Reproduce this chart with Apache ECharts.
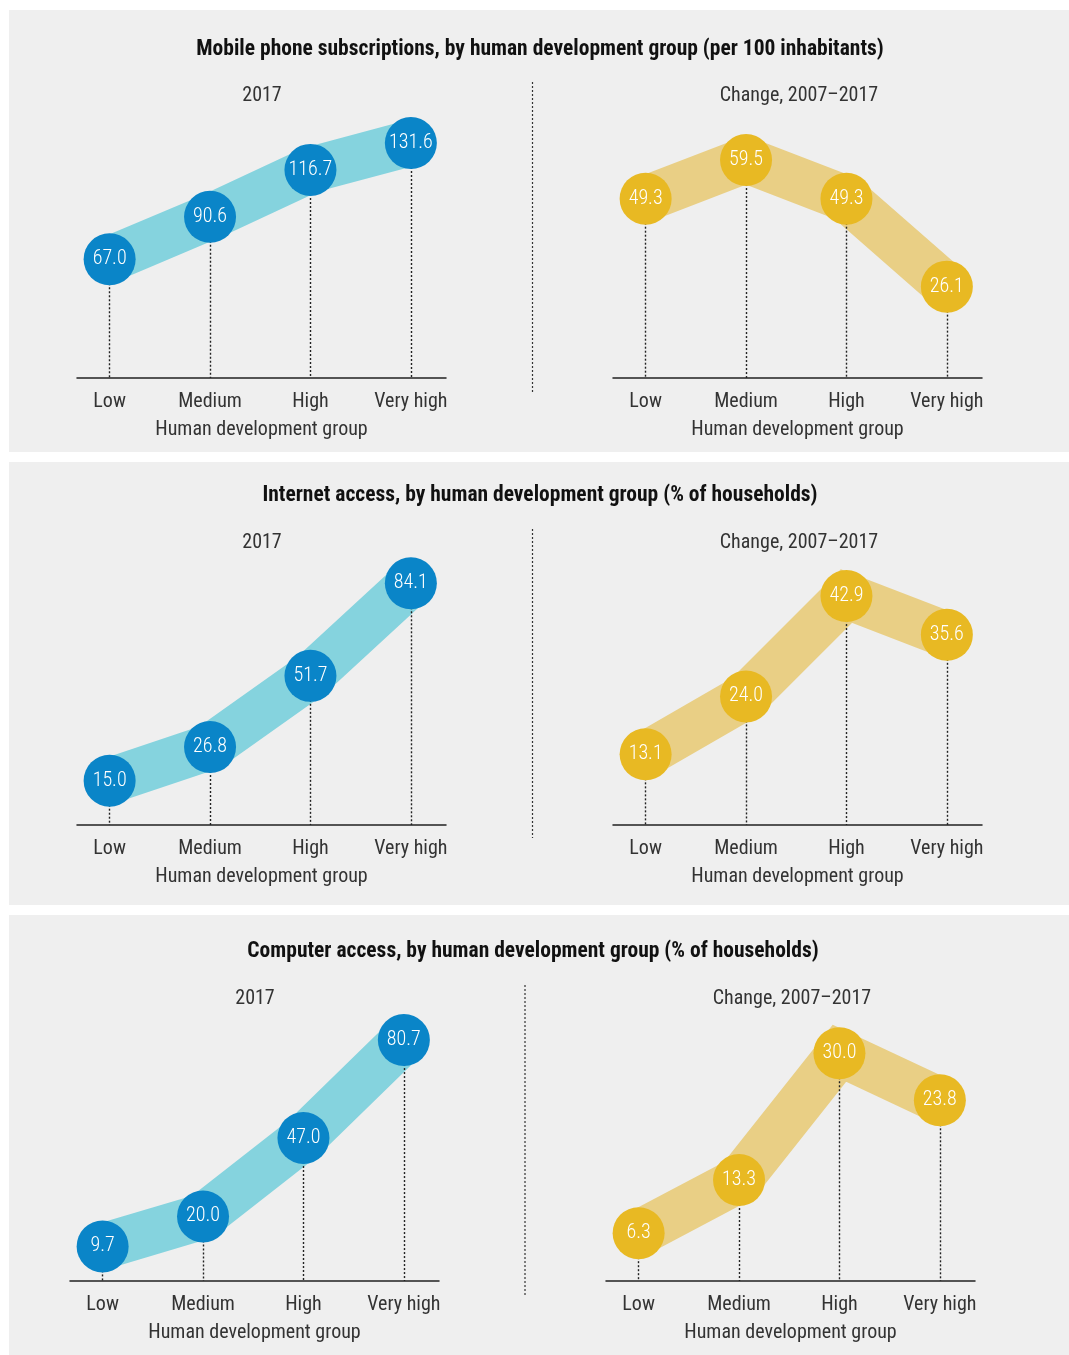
<!DOCTYPE html>
<html>
<head>
<meta charset="utf-8">
<script src="https://cdn.jsdelivr.net/npm/echarts@6/dist/echarts.min.js"></script>
<style>
html,body{margin:0;padding:0;background:#fff;}
#chart{width:1069px;height:1355px;}
</style>
</head>
<body>
<div id="chart"></div>
<script>
// ---- data ----
const categories = ['Low', 'Medium', 'High', 'Very high'];
const mobile2017 = [67.0, 90.6, 116.7, 131.6];
const mobileChange = [49.3, 59.5, 49.3, 26.1];
const internet2017 = [15.0, 26.8, 51.7, 84.1];
const internetChange = [13.1, 24.0, 42.9, 35.6];
const computer2017 = [9.7, 20.0, 47.0, 80.7];
const computerChange = [6.3, 13.3, 30.0, 23.8];

const panelTitles = [
  'Mobile phone subscriptions, by human development group (per 100 inhabitants)',
  'Internet access, by human development group (% of households)',
  'Computer access, by human development group (% of households)'
];
const subTitleLeft = '2017';
const subTitleRight = 'Change, 2007\u20132017';
const axisTitle = 'Human development group';

// ---- styling / layout ----
const FONT = "'Liberation Sans Narrow', 'Roboto Condensed', 'DejaVu Sans Condensed', sans-serif";
const BLUE = '#0a85c8', TEAL = '#85d3de', GOLD = '#e8b923', LGOLD = '#e9cf85';

const charts = [
  {data: mobile2017, left: 77, top: 110, min: 1, max: 150, dark: BLUE, light: TEAL},
  {data: mobileChange, left: 613, top: 110, min: 2, max: 72.7, dark: GOLD, light: LGOLD},
  {data: internet2017, left: 77, top: 557, min: -0.5, max: 93.3, dark: BLUE, light: TEAL},
  {data: internetChange, left: 613, top: 557, min: -0.2, max: 50.25, dark: GOLD, light: LGOLD},
  {data: computer2017, left: 70, top: 1013, min: -2.2, max: 90.0, dark: BLUE, light: TEAL},
  {data: computerChange, left: 606, top: 1013, min: 0, max: 35.3, dark: GOLD, light: LGOLD}
];
const GRID_W = 369, GRID_H = 268;

const panels = [
  {y: 10, h: 442, titleY: 39, subY: 86, divX: 532.5, divY1: 82, divY2: 392, subL: 262, subR: 799, titleX: 540},
  {y: 462, h: 443, titleY: 485, subY: 533, divX: 532.5, divY1: 529, divY2: 838, subL: 262, subR: 799, titleX: 540},
  {y: 915, h: 440, titleY: 941, subY: 989, divX: 525, divY1: 985, divY2: 1295, subL: 255, subR: 792, titleX: 533}
];

const titles = [];
const graphics = [];
panels.forEach((p, k) => {
  graphics.push({type: 'rect', z: -100, silent: true,
    shape: {x: 9, y: p.y, width: 1060, height: p.h}, style: {fill: '#efefef'}});
  graphics.push({type: 'line', z: -50, silent: true,
    shape: {x1: p.divX, y1: p.divY1, x2: p.divX, y2: p.divY2},
    style: {stroke: '#333', lineWidth: 1.2, lineDash: [2, 2]}});
  titles.push({text: panelTitles[k], left: p.titleX, top: p.titleY, textAlign: 'center', padding: 0,
    textStyle: {fontFamily: FONT, fontWeight: 'bold', fontSize: 21.5, color: '#111'}});
  titles.push({text: subTitleLeft, left: p.subL, top: p.subY, textAlign: 'center', padding: 0,
    textStyle: {fontFamily: FONT, fontWeight: 'normal', fontSize: 20, color: '#333'}});
  titles.push({text: subTitleRight, left: p.subR, top: p.subY, textAlign: 'center', padding: 0,
    textStyle: {fontFamily: FONT, fontWeight: 'normal', fontSize: 20, color: '#333'}});
});

const grid = [], xAxis = [], yAxis = [], series = [];
charts.forEach((c, i) => {
  grid.push({left: c.left, top: c.top, width: GRID_W, height: GRID_H, containLabel: false});
  xAxis.push({
    type: 'value', gridIndex: i, min: -0.325, max: 3.35,
    splitLine: {show: false}, axisTick: {show: false},
    axisLine: {show: true, onZero: false, lineStyle: {color: '#222', width: 1.5}},
    axisLabel: {customValues: [0, 1, 2, 3], formatter: v => categories[Math.round(v)] || '',
      color: '#333', fontSize: 20, fontFamily: FONT, margin: 14},
    name: axisTitle, nameLocation: 'middle', nameGap: 42,
    nameTextStyle: {color: '#333', fontSize: 20, fontFamily: FONT}
  });
  yAxis.push({type: 'value', gridIndex: i, min: c.min, max: c.max, show: false});
  const pts = c.data.map((v, j) => [j, v]);
  series.push({
    type: 'line', xAxisIndex: i, yAxisIndex: i, data: pts, symbol: 'none', z: 1,
    clip: false, silent: true, animation: false,
    lineStyle: {width: 46, color: c.light, cap: 'butt', join: 'miter', miterLimit: 10},
    markLine: {
      z: 2, silent: true, animation: false, symbol: ['none', 'none'],
      label: {show: false},
      lineStyle: {color: '#222', width: 1.4, type: [2, 2]},
      data: c.data.map((v, j) => [{coord: [j, v]}, {coord: [j, c.min]}])
    }
  });
  series.push({
    type: 'scatter', xAxisIndex: i, yAxisIndex: i, data: pts, z: 3,
    symbolSize: 52, silent: true, animation: false,
    itemStyle: {color: c.dark, opacity: 1},
    label: {show: true, position: 'inside', color: '#fff', fontSize: 20, fontWeight: 300, fontFamily: FONT,
      formatter: p => p.value[1].toFixed(1)}
  });
});

const chart = echarts.init(document.getElementById('chart'), null, {renderer: 'canvas'});
chart.setOption({
  backgroundColor: '#fff',
  animation: false,
  title: titles,
  graphic: {elements: graphics},
  grid, xAxis, yAxis, series
});
</script>
</body>
</html>
